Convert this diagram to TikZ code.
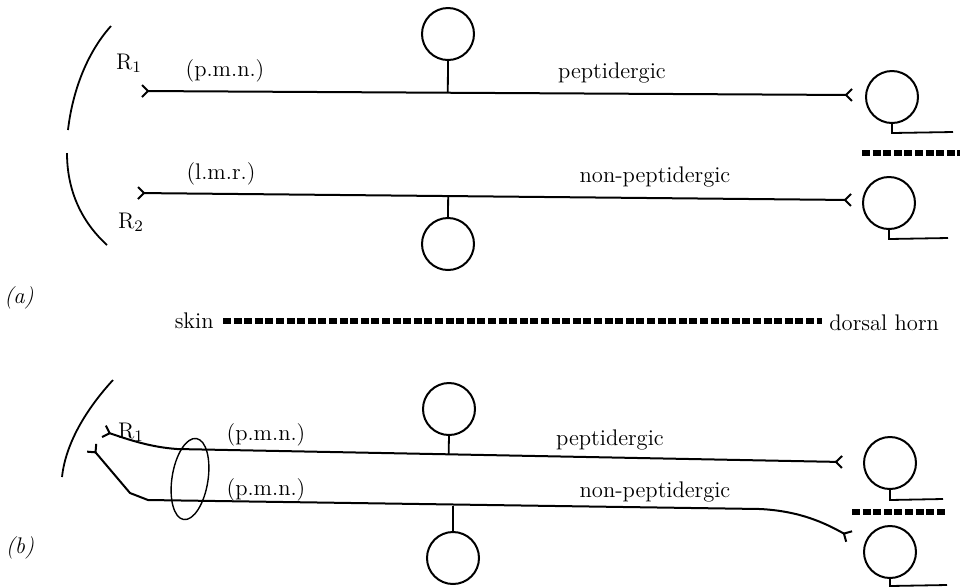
\documentclass[tikz,border=0pt]{standalone}
\usepackage{amsmath}
\usepackage{tikz}
\usetikzlibrary{arrows.meta,calc,positioning}

\tikzset{
  cell/.style={circle, draw, line width=1pt, minimum size=26pt, inner sep=0pt},
  fibre/.style={line width=1pt, >={Straight Barb[length=3pt,width=6pt]}},
  edge/.style={line width=0.9pt},
  barrier/.style={line width=2.6pt, dash pattern=on 4pt off 1.3pt},
  lbl/.style={font=\fontsize{11.3}{13}\selectfont, inner sep=0pt}
}

\begin{document}
\begin{tikzpicture}[x=0.5pt, y=-0.5pt]
  \useasboundingbox (0,0) rectangle (960,586);

  % (a) two separate roots
  \draw[edge] (111,26) .. controls (85,55) and (72,95) .. (68,130);
  \draw[edge] (67,153) .. controls (67,195) and (85,225) .. (107,245);
  \node[lbl] (r1a) at (129,63) {R$_1$};
  \node[lbl] (r2a) at (131,222) {R$_2$};

  \coordinate (pa1) at (141,91);
  \coordinate (pa2) at (853,95);
  \coordinate (na1) at (137,193);
  \coordinate (na2) at (852,200);
  \draw[fibre, >-<] (pa1) -- (pa2);
  \draw[fibre, >-<] (na1) -- (na2);

  \node[cell] (ga1) at (448,34) {};
  \node[cell] (ga2) at (448,244) {};
  \draw[edge] (ga1.south) -- ($(pa1)!(ga1.south)!(pa2)$);
  \draw[edge] (ga2.north) -- ($(na1)!(ga2.north)!(na2)$);

  \node[cell] (ha1) at (892,97) {};
  \node[cell] (ha2) at (889,203) {};
  \draw[edge] (ha1.south) -- ++(0,9) -- (953,132);
  \draw[edge] (ha2.south) -- ++(0,9) -- (948,238);
  \draw[barrier] (862,153) -- (960,153);

  \node[lbl, anchor=south] (pmna) at (225,83) {(p.m.n.)};
  \node[lbl, anchor=south] (lmra) at (221,186) {(l.m.r.)};
  \node[lbl, anchor=south] (pepa) at (612,84) {peptidergic};
  \node[lbl, anchor=south] (npa) at (655,188) {non-peptidergic};

  \node[lbl, font=\fontsize{11.3}{13}\selectfont\itshape] (la) at (19,298) {(a)};
  \node[lbl, anchor=east] (skin) at (214,321) {skin};
  \node[lbl, anchor=west] (horn) at (829,323) {dorsal horn};
  \draw[barrier] (skin.east) ++(9,0) coordinate (s0) -- ($(horn.west)+(-7,-2)$);

  % (b) one root, both fibres in the same nerve
  \draw[edge] (113,380) .. controls (90,405) and (66,440) .. (62,477);
  \node[lbl] (r1b) at (131,432) {R$_1$};

  \coordinate (pb1) at (103,431);
  \coordinate (pbk) at (177,449);
  \coordinate (pb2) at (843,462);
  \coordinate (nb1) at (91,447);
  \coordinate (nbk) at (148,500);
  \coordinate (nb2) at (850,537);
  \draw[fibre, >-<] (pb1) .. controls (130,440) and (150,447) .. (pbk) -- (pb2);
  \draw[fibre, >-<] (nb1) -- (130,493) -- (nbk) -- (760,509)
    .. controls (800,511) and (825,523) .. (nb2);
  \draw[line width=0.7pt, rotate around={-9:(190,479)}] (190,479) ellipse (18 and 41);

  \node[cell] (gb1) at (449,409) {};
  \node[cell] (gb2) at (453,558) {};
  \draw[edge] (gb1.south) -- ($(pbk)!(gb1.south)!(pb2)$);
  \draw[edge] (gb2.north) -- ++(0,-25);

  \node[cell] (hb1) at (890,463) {};
  \node[cell] (hb2) at (890,552) {};
  \draw[edge] (hb1.south) -- ++(0,10) -- (943,499);
  \draw[edge] (hb2.south) -- ++(0,7) -- (947,585);
  \draw[barrier] (852,512) -- (947,512);

  \node[lbl, anchor=south] (pmnb1) at (266,447) {(p.m.n.)};
  \node[lbl, anchor=south] (pmnb2) at (266,502) {(p.m.n.)};
  \node[lbl, anchor=south] (pepb) at (610,451) {peptidergic};
  \node[lbl, anchor=south] (npb) at (655,503) {non-peptidergic};

  \node[lbl, font=\fontsize{11.3}{13}\selectfont\itshape] (lb) at (20,548) {(b)};
\end{tikzpicture}
\end{document}
